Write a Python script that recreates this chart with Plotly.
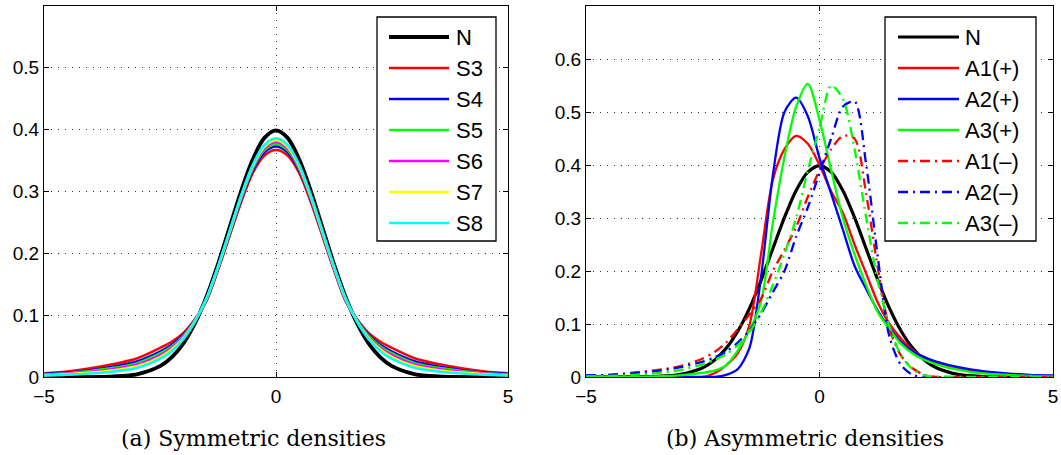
import plotly.graph_objects as go

# ---------------- data ----------------
XS_L = [-5, -4.5, -4, -3.5, -3, -2.5, -2.25, -2, -1.75, -1.5, -1.25, -1, -0.75, -0.5, -0.25, 0,
        0.25, 0.5, 0.75, 1, 1.25, 1.5, 1.75, 2, 2.25, 2.5, 3, 3.5, 4, 4.5, 5]
N_L = [0.0, 0.0, 0.0001, 0.0009, 0.0044, 0.0175, 0.0317, 0.054, 0.0863, 0.1295, 0.1826, 0.242,
       0.3011, 0.352, 0.3867, 0.399, 0.3867, 0.352, 0.3011, 0.242, 0.1826, 0.1295, 0.0863,
       0.054, 0.0317, 0.0175, 0.0044, 0.0009, 0.0001, 0.0, 0.0]
S3 = [0.006, 0.009, 0.014, 0.021, 0.030, 0.047, 0.057, 0.071, 0.093, 0.123, 0.173, 0.228,
      0.283, 0.330, 0.358, 0.367, 0.358, 0.330, 0.283, 0.228, 0.173, 0.123, 0.093, 0.071,
      0.057, 0.047, 0.030, 0.021, 0.014, 0.009, 0.006]
S4 = [0.005, 0.007, 0.011, 0.017, 0.025, 0.041, 0.052, 0.068, 0.0917, 0.124, 0.1748, 0.231,
      0.2864, 0.334, 0.3635, 0.373, 0.3635, 0.334, 0.2864, 0.231, 0.1748, 0.124, 0.0917, 0.068,
      0.052, 0.041, 0.025, 0.017, 0.011, 0.007, 0.005]
S5 = [0.004, 0.006, 0.0097, 0.0148, 0.022, 0.038, 0.0492, 0.066, 0.0909, 0.125, 0.176, 0.232,
      0.2886, 0.337, 0.3669, 0.377, 0.3669, 0.337, 0.2886, 0.232, 0.176, 0.125, 0.0909, 0.066,
      0.0492, 0.038, 0.022, 0.0148, 0.0097, 0.006, 0.004]
S6 = [0.0036, 0.0054, 0.0084, 0.013, 0.0198, 0.0352, 0.0469, 0.0642, 0.0903, 0.1258, 0.1768,
      0.2336, 0.2902, 0.3388, 0.3695, 0.380, 0.3695, 0.3388, 0.2902, 0.2336, 0.1768, 0.1258,
      0.0903, 0.0642, 0.0469, 0.0352, 0.0198, 0.013, 0.0084, 0.0054, 0.0036]
S7 = [0.003, 0.0045, 0.0071, 0.011, 0.0172, 0.0323, 0.0444, 0.0625, 0.0897, 0.1265, 0.1778,
      0.235, 0.2921, 0.341, 0.3724, 0.383, 0.3724, 0.341, 0.2921, 0.235, 0.1778, 0.1265,
      0.0897, 0.0625, 0.0444, 0.0323, 0.0172, 0.011, 0.0071, 0.0045, 0.003]
S8 = [0.0024, 0.0036, 0.0057, 0.0089, 0.0146, 0.0293, 0.0418, 0.0608, 0.089, 0.1272, 0.1788,
      0.2364, 0.2939, 0.3432, 0.3752, 0.386, 0.3752, 0.3432, 0.2939, 0.2364, 0.1788, 0.1272,
      0.089, 0.0608, 0.0418, 0.0293, 0.0146, 0.0089, 0.0057, 0.0036, 0.0024]

XS_R = [-5, -4.5, -4, -3.5, -3, -2.5, -2.25, -2, -1.75, -1.5, -1.25, -1, -0.75, -0.5, -0.25, 0,
        0.25, 0.5, 0.75, 1, 1.25, 1.5, 1.75, 2, 2.25, 2.5, 3, 3.5, 4, 4.5, 5]
N_R = [0.0, 0.0, 0.0001, 0.0009, 0.0044, 0.0175, 0.0317, 0.054, 0.0863, 0.1295, 0.1826, 0.242,
       0.3011, 0.352, 0.3867, 0.399, 0.3867, 0.352, 0.3011, 0.242, 0.1826, 0.1295, 0.0863,
       0.054, 0.0317, 0.0175, 0.0044, 0.0009, 0.0001, 0.0, 0.0]
A1P = [0.0, 0.0, 0.0, 0.0, 0.0, 0.0, 0.007, 0.022, 0.045, 0.098, 0.233, 0.372, 0.43, 0.455,
       0.44, 0.40, 0.35, 0.31, 0.25, 0.195, 0.14, 0.10, 0.072, 0.05, 0.037, 0.027, 0.015,
       0.009, 0.005, 0.003, 0.002]
A2P = [0.0, 0.0, 0.0, 0.0, 0.0, 0.0, 0.0, 0.004, 0.015, 0.055, 0.19, 0.38, 0.50, 0.527,
       0.492, 0.413, 0.346, 0.278, 0.21, 0.166, 0.125, 0.092, 0.066, 0.048, 0.037, 0.029, 0.018,
       0.011, 0.007, 0.004, 0.003]
A3P = [0.0, 0.0, 0.0, 0.001, 0.003, 0.008, 0.012, 0.022, 0.05, 0.088, 0.143, 0.29, 0.415, 0.51,
       0.553, 0.485, 0.39, 0.30, 0.232, 0.173, 0.122, 0.09, 0.062, 0.044, 0.032, 0.024, 0.013,
       0.007, 0.004, 0.002, 0.001]
A1M = [0.002, 0.004, 0.008, 0.013, 0.020, 0.035, 0.047, 0.065, 0.09, 0.118, 0.148, 0.20, 0.24,
       0.283, 0.34, 0.39, 0.43, 0.455, 0.45, 0.345, 0.205, 0.09, 0.04, 0.016, 0.004, 0.0, 0.0,
       0.0, 0.0, 0.0, 0.0]
A2M = [0.003, 0.004, 0.007, 0.011, 0.018, 0.029, 0.037, 0.048, 0.065, 0.088, 0.12, 0.16, 0.20,
       0.265, 0.32, 0.385, 0.45, 0.51, 0.52, 0.40, 0.225, 0.075, 0.022, 0.004, 0.0, 0.0, 0.0,
       0.0, 0.0, 0.0, 0.0]
A3M = [0.001, 0.002, 0.004, 0.007, 0.013, 0.024, 0.032, 0.043, 0.06, 0.085, 0.122, 0.173, 0.232,
       0.30, 0.39, 0.47, 0.55, 0.525, 0.43, 0.30, 0.18, 0.095, 0.04, 0.014, 0.003, 0.0, 0.0,
       0.0, 0.0, 0.0, 0.0]

LEFT_NAMES = ["N", "S3", "S4", "S5", "S6", "S7", "S8"]
RIGHT_NAMES = ["N", "A1(+)", "A2(+)", "A3(+)", "A1(\u2013)", "A2(\u2013)", "A3(\u2013)"]
X_TICKS = [-5, 0, 5]
X_TICKTEXT = ["\u22125", "0", "5"]
Y_TICKS_L = [0, 0.1, 0.2, 0.3, 0.4, 0.5]
Y_TICKS_R = [0, 0.1, 0.2, 0.3, 0.4, 0.5, 0.6]
CAPTIONS = ["(a) Symmetric densities", "(b) Asymmetric densities"]

# ---------------- styles ----------------
W, H = 1061, 455
SANS = "Liberation Sans, Arial, Helvetica, sans-serif"
SERIF = "DejaVu Serif, serif"
DASHDOT = "10px,5px,2px,5px"

left_series = [N_L, S3, S4, S5, S6, S7, S8]
left_styles = [("#000000", 3.8, "solid"), ("#ff0000", 2.6, "solid"), ("#0000ff", 2.6, "solid"),
               ("#00ff00", 2.6, "solid"), ("#ff00ff", 2.6, "solid"), ("#ffff00", 2.6, "solid"),
               ("#00ffff", 2.6, "solid")]
right_series = [N_R, A1P, A2P, A3P, A1M, A2M, A3M]
right_styles = [("#000000", 3.2, "solid"), ("#ff0000", 2.3, "solid"), ("#0000ff", 2.3, "solid"),
                ("#00ff00", 2.3, "solid"), ("#ff0000", 2.3, DASHDOT), ("#0000ff", 2.3, DASHDOT),
                ("#00ff00", 2.3, DASHDOT)]

fig = go.Figure()
for name, ys, (c, w, d) in zip(LEFT_NAMES, left_series, left_styles):
    fig.add_trace(go.Scatter(x=XS_L, y=ys, mode="lines", name=name, showlegend=False,
                             line=dict(color=c, width=w, dash=d, shape="spline", smoothing=0.9),
                             xaxis="x", yaxis="y"))
for name, ys, (c, w, d) in zip(RIGHT_NAMES, right_series, right_styles):
    fig.add_trace(go.Scatter(x=XS_R, y=ys, mode="lines", name=name, showlegend=False,
                             line=dict(color=c, width=w, dash=d, shape="spline", smoothing=0.8),
                             xaxis="x2", yaxis="y2"))

def px(x):
    return x / W

def py(y):
    return 1 - y / H

axis_common = dict(showline=True, linecolor="black", linewidth=1, mirror="ticks",
                   ticks="inside", ticklen=5, tickcolor="black", zeroline=False,
                   showgrid=True, gridcolor="#333333", gridwidth=1, griddash="1px,6px",
                   tickfont=dict(family=SANS, size=19, color="black"), fixedrange=True)

fig.update_layout(
    width=W, height=H, margin=dict(l=0, r=0, t=0, b=0, autoexpand=False),
    paper_bgcolor="white", plot_bgcolor="white", showlegend=False,
    xaxis=dict(domain=[px(44), px(508)], range=[-5, 5], tickvals=X_TICKS, ticktext=X_TICKTEXT,
               anchor="y", ticklabelstandoff=2, **axis_common),
    yaxis=dict(domain=[py(377), py(6)], range=[0, 0.6], tickvals=Y_TICKS_L,
               ticktext=[("%g" % v) for v in Y_TICKS_L], anchor="x", **axis_common),
    xaxis2=dict(domain=[px(586), px(1053)], range=[-5, 5], tickvals=X_TICKS, ticktext=X_TICKTEXT,
                anchor="y2", ticklabelstandoff=2, **axis_common),
    yaxis2=dict(domain=[py(377), py(6)], range=[0, 0.7], tickvals=Y_TICKS_R,
                ticktext=[("%g" % v) for v in Y_TICKS_R], anchor="x2", **axis_common),
)

shapes = []
annotations = []

def add_legend(box, line_x, text_x, names, styles):
    x0, x1, y0, y1 = box
    shapes.append(dict(type="rect", xref="paper", yref="paper", x0=px(x0), x1=px(x1),
                       y0=py(y1), y1=py(y0), line=dict(color="black", width=1.3),
                       fillcolor="white", layer="above"))
    for i, (nm, (c, w, d)) in enumerate(zip(names, styles)):
        yy = 37 + 31 * i
        shapes.append(dict(type="line", xref="paper", yref="paper", x0=px(line_x[0]),
                           x1=px(line_x[1]), y0=py(yy), y1=py(yy),
                           line=dict(color=c, width=w, dash=d), layer="above"))
        annotations.append(dict(text=nm, xref="paper", yref="paper", x=px(text_x), y=py(yy),
                                xanchor="left", yanchor="middle", showarrow=False,
                                font=dict(family=SANS, size=22, color="black")))

add_legend((377, 496, 17, 241), (389, 449), 454, LEFT_NAMES, left_styles)
add_legend((885, 1036, 17, 241), (898, 959), 963, RIGHT_NAMES, right_styles)

for cap, cx in zip(CAPTIONS, [253, 805]):
    annotations.append(dict(text=cap, xref="paper", yref="paper", x=px(cx), y=py(438),
                            xanchor="center", yanchor="middle", showarrow=False,
                            font=dict(family=SERIF, size=22, color="black")))

fig.update_layout(shapes=shapes, annotations=annotations)
fig.write_html("out.html")
